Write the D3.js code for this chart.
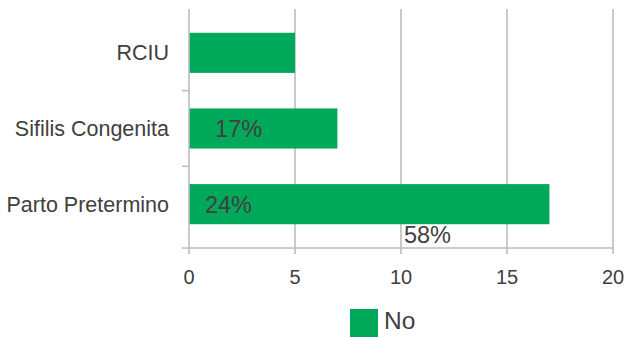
<!DOCTYPE html>
<html>
<head>
<meta charset="utf-8">
<script src="https://cdn.jsdelivr.net/npm/d3@7/dist/d3.min.js"></script>
<style>
  html, body { margin: 0; padding: 0; background: #fff; }
  svg { display: block; font-family: "Liberation Sans", Arial, sans-serif; }
</style>
</head>
<body>
<svg id="chart" width="628" height="337"></svg>
<script>
// Chart data
const categories = ["RCIU", "Sifilis Congenita", "Parto Pretermino"];
const values = [5, 7, 17];
const xTicks = [0, 5, 10, 15, 20];
const seriesName = "No";
// Percentage annotations: text, anchor value on the x scale, category it sits on
const pctLabels = [
  { text: "17%", x: 1.23, cat: "Sifilis Congenita", dy: 0 },
  { text: "24%", x: 0.75, cat: "Parto Pretermino", dy: 0 },
  { text: "58%", x: 10.14, cat: "Parto Pretermino", dy: 30 }
];

const green = "#00A859";
const gridColor = "#BDBDBD";
const textColor = "#404040";

const svg = d3.select("#chart");
const plotLeft = 189, plotRight = 613, plotTop = 9, plotBottom = 248;

const x = d3.scaleLinear().domain([0, 20]).range([plotLeft, plotRight]);
const y = d3.scaleBand().domain(categories).range([15, 242]).paddingInner(0.47).paddingOuter(0.235);

// Vertical gridlines
svg.append("g").selectAll("line").data(xTicks.filter(d => d > 0)).join("line")
  .attr("x1", d => x(d)).attr("x2", d => x(d))
  .attr("y1", plotTop).attr("y2", plotBottom + 6)
  .attr("stroke", gridColor).attr("stroke-width", 1.6);

// Bars
svg.append("g").selectAll("rect").data(categories).join("rect")
  .attr("x", x(0))
  .attr("y", d => y(d))
  .attr("width", (d, i) => x(values[i]) - x(0))
  .attr("height", y.bandwidth())
  .attr("fill", green);

// Category axis line and ticks at band boundaries
svg.append("line")
  .attr("x1", plotLeft).attr("x2", plotLeft).attr("y1", plotTop).attr("y2", plotBottom + 6)
  .attr("stroke", gridColor).attr("stroke-width", 1.6);
const step = y.step();
const boundaries = [y(categories[1]) - step * 0.235, y(categories[2]) - step * 0.235];
svg.append("g").selectAll("line").data(boundaries).join("line")
  .attr("x1", plotLeft - 7).attr("x2", plotLeft)
  .attr("y1", d => d).attr("y2", d => d)
  .attr("stroke", gridColor).attr("stroke-width", 1.6);

// Value axis baseline with tick
svg.append("line")
  .attr("x1", plotLeft - 7).attr("x2", plotRight).attr("y1", plotBottom).attr("y2", plotBottom)
  .attr("stroke", gridColor).attr("stroke-width", 1.6);

// Category labels
svg.append("g").selectAll("text").data(categories).join("text")
  .attr("x", 169)
  .attr("y", d => y(d) + y.bandwidth() / 2 + 7.5)
  .attr("text-anchor", "end")
  .attr("fill", textColor)
  .attr("font-size", 21.5)
  .text(d => d);

// X tick labels
svg.append("g").selectAll("text").data(xTicks).join("text")
  .attr("x", d => x(d))
  .attr("y", 284)
  .attr("text-anchor", "middle")
  .attr("fill", textColor)
  .attr("font-size", 20)
  .text(d => d);

// Percentage annotations
svg.append("g").selectAll("text").data(pctLabels).join("text")
  .attr("x", d => x(d.x))
  .attr("y", d => y(d.cat) + y.bandwidth() / 2 + 8.5 + d.dy)
  .attr("fill", textColor)
  .attr("font-size", 23.5)
  .text(d => d.text);

// Legend
svg.append("rect")
  .attr("x", 350).attr("y", 309).attr("width", 28).attr("height", 28)
  .attr("fill", green);
svg.append("text")
  .attr("x", 384).attr("y", 329)
  .attr("fill", textColor).attr("font-size", 24.5)
  .text(seriesName);
</script>
</body>
</html>
